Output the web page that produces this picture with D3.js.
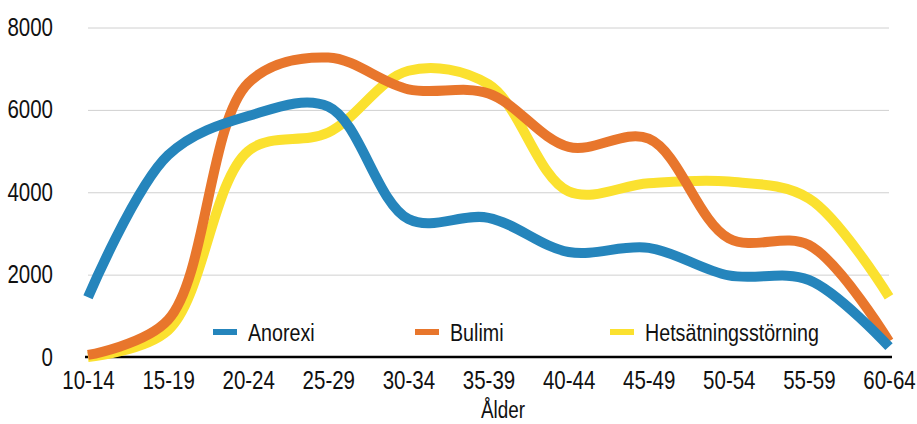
<!DOCTYPE html>
<html lang="sv">
<head>
    <meta charset="UTF-8">
    <title>Ätstörningar per ålder</title>
    <script src="https://d3js.org/d3.v7.min.js"></script>
    <style>
        body { margin: 0; background: #fff; }
        svg { display: block; font-family: "Liberation Sans", Arial, sans-serif; }
        .grid line { stroke: #d0d0d0; stroke-width: 1; }
        .grid path { display: none; }
        .tick text { fill: #111; font-size: 25px; }
    </style>
</head>
<body>
    <svg id="chart" width="917" height="424"></svg>

    <script>
        // age groups
        const ageGroups = ["10-14", "15-19", "20-24", "25-29", "30-34", "35-39", "40-44", "45-49", "50-54", "55-59", "60-64"];

        // values
        const anorexi = [1450, 4900, 5850, 6080, 3350, 3380, 2550, 2650, 1980, 1870, 250];
        const bulimi = [50, 900, 6650, 7270, 6500, 6400, 5100, 5300, 2880, 2720, 380];
        const hets = [0, 650, 5000, 5450, 6950, 6620, 4020, 4220, 4260, 3850, 1460];

        const yTicks = [0, 2000, 4000, 6000, 8000];

        const series = [
            { name: "Hetsätningsstörning", values: hets, color: "#FBE12F" },
            { name: "Bulimi", values: bulimi, color: "#E8762C" },
            { name: "Anorexi", values: anorexi, color: "#2585BC" }
        ];
        const legendOrder = ["Anorexi", "Bulimi", "Hetsätningsstörning"];

        const margin = { top: 27.5, right: 28, bottom: 67, left: 88 };
        const width = 917 - margin.left - margin.right;
        const height = 424 - margin.top - margin.bottom;

        // squeeze text horizontally, the original uses a condensed face
        const squeeze = 0.82;
        function narrow(sel) {
            sel.attr("transform", function () {
                const tx = +this.getAttribute("x") || 0;
                return `translate(${tx},0) scale(${squeeze},1) translate(${-tx},0)`;
            });
        }

        const svg = d3.select("#chart");
        const g = svg.append("g").attr("transform", `translate(${margin.left},${margin.top})`);

        const x = d3.scalePoint().domain(ageGroups).range([0, width]);
        const y = d3.scaleLinear().domain([0, 8000]).range([height, 0]);

        // gridlines
        g.append("g")
            .attr("class", "grid")
            .call(d3.axisLeft(y).tickValues(yTicks.slice(1)).tickSize(-width).tickFormat(""));

        // y labels
        const yAxis = g.append("g")
            .call(d3.axisLeft(y).tickValues(yTicks).tickSize(0).tickPadding(35).tickFormat(d => d));
        yAxis.select(".domain").remove();
        yAxis.selectAll("text").call(narrow);

        // x labels
        const xAxis = g.append("g")
            .attr("transform", `translate(0,${height})`)
            .call(d3.axisBottom(x).tickSize(0).tickPadding(14));
        xAxis.select(".domain").remove();
        xAxis.selectAll("text").call(narrow);

        // baseline
        g.append("line")
            .attr("x1", -3).attr("x2", width + 3)
            .attr("y1", y(0)).attr("y2", y(0))
            .attr("stroke", "#000").attr("stroke-width", 2.5);

        const line = d3.line()
            .x((d, i) => x(ageGroups[i]))
            .y(d => y(d))
            .curve(d3.curveCatmullRom.alpha(0.5));

        g.selectAll(".series")
            .data(series)
            .enter()
            .append("path")
            .attr("class", "series")
            .attr("d", d => line(d.values))
            .attr("fill", "none")
            .attr("stroke", d => d.color)
            .attr("stroke-width", 10)
            .attr("stroke-linecap", "butt");

        // legend
        const legendX = [213, 415, 610];
        const legend = svg.append("g");
        legendOrder.forEach((name, i) => {
            const s = series.find(d => d.name === name);
            legend.append("line")
                .attr("x1", legendX[i]).attr("x2", legendX[i] + 24)
                .attr("y1", 332).attr("y2", 332)
                .attr("stroke", s.color).attr("stroke-width", 6);
            legend.append("text")
                .attr("x", legendX[i] + 35)
                .attr("y", 332)
                .attr("dy", "0.36em")
                .attr("font-size", 24)
                .attr("fill", "#111")
                .text(name)
                .call(narrow);
        });

        // axis title
        svg.append("text")
            .attr("x", 503)
            .attr("y", 418)
            .attr("text-anchor", "middle")
            .attr("font-size", 23)
            .attr("fill", "#111")
            .text("Ålder")
            .call(narrow);
    </script>
</body>
</html>
